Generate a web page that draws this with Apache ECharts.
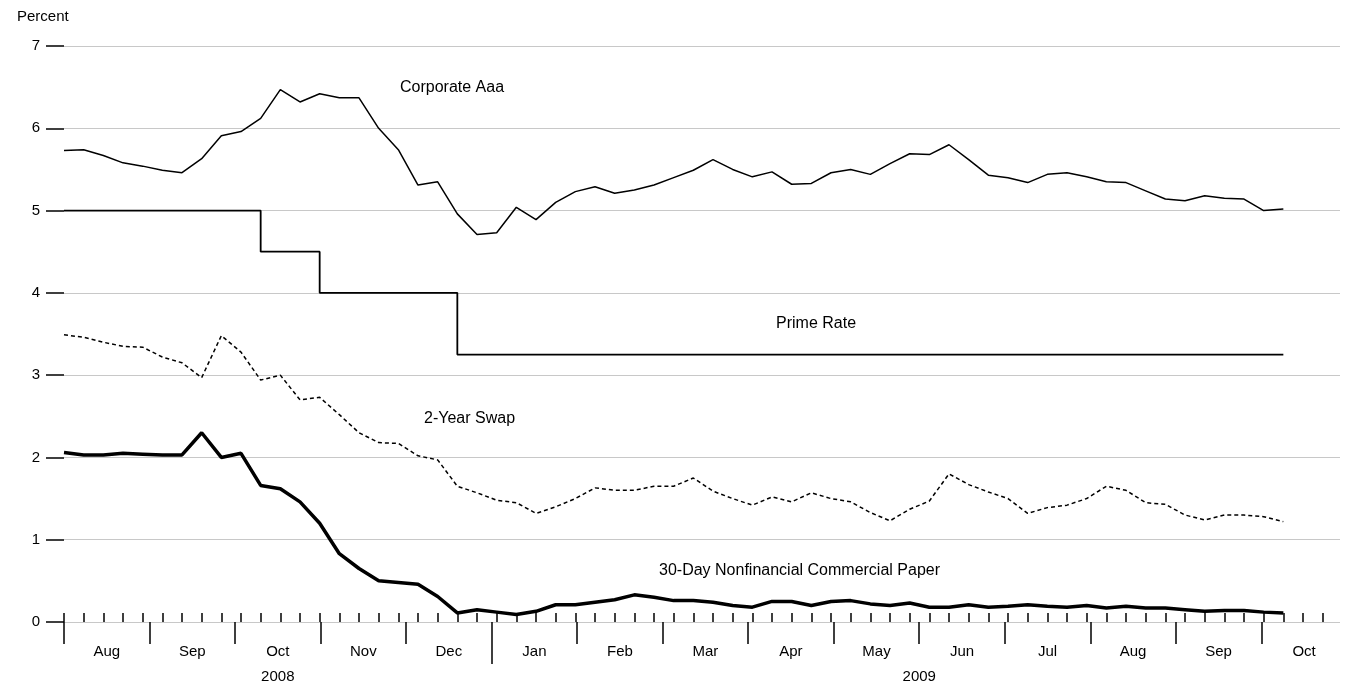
<!DOCTYPE html>
<html><head><meta charset="utf-8">
<script src="https://cdn.jsdelivr.net/npm/echarts@6/dist/echarts.min.js"></script>
<style>html,body{margin:0;padding:0;background:#fff}#c{width:1348px;height:691px}</style>
</head><body><div id="c"></div>
<script>
// weekly observations, week 0 = end of July 2008
const months = ['Aug','Sep','Oct','Nov','Dec','Jan','Feb','Mar','Apr','May','Jun','Jul','Aug','Sep','Oct'];
const years = [{label:'2008', center:2.5}, {label:'2009', center:10}];
const corporateAaa = [5.73,5.74,5.67,5.58,5.54,5.49,5.46,5.63,5.91,5.96,6.12,6.47,6.32,6.42,6.37,6.37,6.0,5.74,5.31,5.35,4.96,4.71,4.73,5.04,4.89,5.1,5.23,5.29,5.21,5.25,5.31,5.4,5.49,5.62,5.5,5.41,5.47,5.32,5.33,5.46,5.5,5.44,5.57,5.69,5.68,5.8,5.62,5.43,5.4,5.34,5.44,5.46,5.41,5.35,5.34,5.24,5.14,5.12,5.18,5.15,5.14,5.0,5.02];
const primeRate = [[0,5],[10,4.5],[13,4.0],[20,3.25],[62,3.25]]; // [week, rate]
const swap2y = [3.49,3.46,3.4,3.35,3.34,3.22,3.15,2.97,3.48,3.28,2.94,3.0,2.7,2.73,2.52,2.3,2.18,2.17,2.02,1.97,1.65,1.57,1.48,1.45,1.32,1.4,1.5,1.63,1.6,1.6,1.65,1.65,1.75,1.59,1.5,1.42,1.52,1.46,1.57,1.5,1.46,1.33,1.23,1.37,1.47,1.8,1.67,1.58,1.5,1.32,1.39,1.42,1.5,1.65,1.6,1.45,1.43,1.3,1.24,1.3,1.3,1.28,1.22];
const cp30 = [2.06,2.03,2.03,2.05,2.04,2.03,2.03,2.3,2.0,2.05,1.66,1.62,1.46,1.2,0.83,0.65,0.5,0.48,0.46,0.31,0.11,0.15,0.12,0.09,0.13,0.21,0.21,0.24,0.27,0.33,0.3,0.26,0.26,0.24,0.2,0.18,0.25,0.25,0.2,0.25,0.26,0.22,0.2,0.23,0.18,0.18,0.21,0.18,0.19,0.21,0.19,0.18,0.2,0.17,0.19,0.17,0.17,0.15,0.13,0.14,0.14,0.12,0.11];

const WEEK = 7/30.44; // in month units
const XMAX = 14.92;
const toXY = arr => arr.map((v,i)=>[i*WEEK, v]);
const weekTicks = []; for (let i=0;i*WEEK<=XMAX;i++) weekTicks.push(i*WEEK);
const monthTicks = []; for (let i=0;i<=14;i++) monthTicks.push(i);
const monthCenters = months.map((m,i)=>i+0.5);
const font = 'Liberation Sans, Arial, sans-serif';

const baseX = {type:'value', min:0, max:XMAX, gridIndex:0, position:'bottom',
  axisLine:{show:false}, splitLine:{show:false}};

const chart = echarts.init(document.getElementById('c'));
chart.setOption({
  animation:false,
  grid:{left:64, right:8, top:46, bottom:69},
  xAxis:[
    Object.assign({}, baseX, {
      axisTick:{show:true, inside:true, length:9, customValues:weekTicks, lineStyle:{color:'#000',width:1.5}},
      axisLabel:{show:false}}),
    Object.assign({}, baseX, {
      axisTick:{show:true, length:22, customValues:monthTicks, lineStyle:{color:'#000',width:1.5}},
      axisLabel:{show:true, customValues:monthCenters, margin:22, fontSize:15, color:'#000', fontFamily:font,
        formatter:v=>months[Math.round(v-0.5)]}}),
    Object.assign({}, baseX, {
      axisTick:{show:true, length:42, customValues:[5], lineStyle:{color:'#000',width:1.5}},
      axisLabel:{show:true, customValues:years.map(y=>y.center), margin:47, fontSize:15, color:'#000', fontFamily:font,
        formatter:v=>{const y=years.find(t=>Math.abs(t.center-v)<0.01);return y?y.label:'';}}})
  ],
  yAxis:{type:'value', min:0, max:7, interval:1,
    axisLine:{show:false},
    axisTick:{show:true, length:18, lineStyle:{color:'#000',width:1.5}},
    axisLabel:{margin:24, fontSize:15, color:'#000', fontFamily:font},
    splitLine:{lineStyle:{color:'#c8c8c8', width:1.2}}},
  graphic:[
    {type:'text', left:17, top:9, style:{text:'Percent', fontSize:15, fontFamily:font, fill:'#000'}},
    {type:'text', left:400, top:80, style:{text:'Corporate Aaa', fontSize:16, fontFamily:font, fill:'#000'}},
    {type:'text', left:776, top:316, style:{text:'Prime Rate', fontSize:16, fontFamily:font, fill:'#000'}},
    {type:'text', left:424, top:411, style:{text:'2-Year Swap', fontSize:16, fontFamily:font, fill:'#000'}},
    {type:'text', left:659, top:563, style:{text:'30-Day Nonfinancial Commercial Paper', fontSize:16, fontFamily:font, fill:'#000'}}
  ],
  series:[
    {type:'line', xAxisIndex:0, data:toXY(corporateAaa), symbol:'none', lineStyle:{color:'#000',width:1.5}},
    {type:'line', xAxisIndex:0, data:primeRate.map(p=>[p[0]*WEEK,p[1]]), step:'end', symbol:'none', lineStyle:{color:'#000',width:1.8}},
    {type:'line', xAxisIndex:0, data:toXY(swap2y), symbol:'none', lineStyle:{color:'#000',width:1.5,type:[4,3]}},
    {type:'line', xAxisIndex:0, data:toXY(cp30), symbol:'none', lineStyle:{color:'#000',width:3.5}}
  ]
});
</script></body></html>
